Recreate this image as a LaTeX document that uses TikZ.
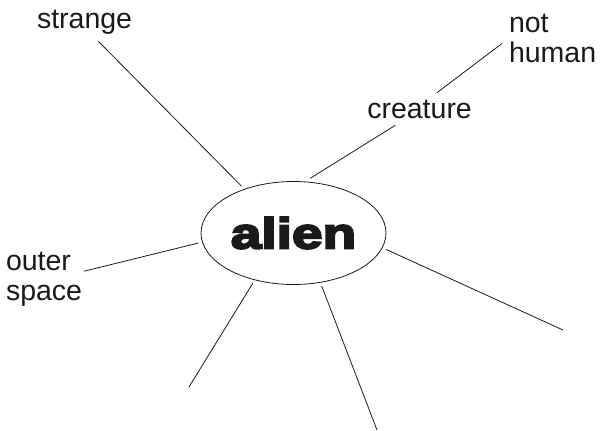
\documentclass[tikz,border=0pt]{standalone}
\usepackage{fontspec}
\setmainfont{Liberation Sans}
\newfontfamily\heavyfont{Liberation Sans Bold}[FakeStretch=1.28,FakeBold=5]
\usetikzlibrary{shapes.geometric}
\definecolor{ink}{HTML}{1A1A1A}

\begin{document}
\begin{tikzpicture}[x=1pt,y=-1pt,line width=0.8pt,draw=ink,
  word/.style={inner sep=0pt,outer sep=7pt,anchor=base west,text=ink,font=\fontsize{28.5}{29.5}\selectfont},
  hub/.style={ellipse,draw=ink,inner sep=0pt,outer sep=4pt,minimum width=185pt,minimum height=103pt,text=ink,font=\heavyfont\fontsize{43}{43}\selectfont}]
  \useasboundingbox (0,0) rectangle (600,431);
  % centre word and the words round it
  \node[hub] (alien) at (293.5,233) {alien};
  \node[word] (strange) at (30,28.5) {strange};
  \node[word] (creature) at (360.3,118) {creature};
  \node[word,align=left] (nothuman) at (502,62) {not\\human};
  \node[word,align=left,outer sep=2pt] (outerspace) at (4,300) {outer\\space};
  % spokes with nothing at the end yet
  \coordinate (tipsw) at (189,387);
  \coordinate (tips) at (377,430);
  \coordinate (tipe) at (563,330);
  \draw (alien.138.6) -- (strange.306);
  \draw (alien.73.7) -- (creature.214.6);
  \draw (creature.43.8) -- (nothuman.186.6);
  \draw (alien.186.1) -- (outerspace.11.9);
  \draw (alien.231.4) -- (tipsw);
  \draw (alien.298.3) -- (tips);
  \draw (alien.350.8) -- (tipe);
\end{tikzpicture}
\end{document}
